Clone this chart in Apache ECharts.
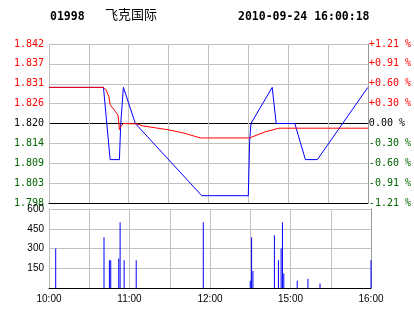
<!DOCTYPE html>
<html>
<head>
<meta charset="utf-8">
<script src="https://cdn.jsdelivr.net/npm/echarts@6/dist/echarts.min.js"></script>
<style>html,body{margin:0;padding:0;background:#fff;}#c{width:414px;height:314px;}</style>
</head>
<body>
<div id="c"></div>
<script>
// ---- data ----
const stockCode = '01998';
const stockName = '飞克国际';
const stamp = '2010-09-24 16:00:18';
const prevClose = 1.82;
const pctStep = 0.3025; // percent per horizontal grid line

// minute index from 10:00 (0) to 16:00 (240), lunch break removed
const priceIdx = [0, 41, 46, 53, 54, 56, 65, 115, 150, 151, 152, 168, 171, 185, 193, 202, 240];
const priceVal = [1.83, 1.83, 1.81, 1.81, 1.82, 1.83, 1.82, 1.80, 1.80, 1.815, 1.82, 1.83, 1.82, 1.82, 1.81, 1.81, 1.83];

const avgIdx = [0, 41, 43, 45, 46, 49, 52, 53, 54, 56, 66, 71, 89, 101, 114, 151, 152, 162, 173, 240];
const avgVal = [1.83, 1.83, 1.8293, 1.8275, 1.8252, 1.8238, 1.8222, 1.8183, 1.8192, 1.82, 1.8199, 1.8193, 1.8183, 1.8174, 1.816, 1.816, 1.8165, 1.8176, 1.8187, 1.8187];

const volIdx = [5, 41, 45, 46, 52, 53, 56, 65, 115, 150, 151, 152, 168, 171, 173, 174, 175, 185, 193, 202, 240];
const volVal = [300, 385, 210, 210, 225, 500, 210, 210, 500, 55, 385, 130, 400, 210, 300, 500, 110, 55, 70, 35, 210];

const priceTicks = ['1.798', '1.803', '1.809', '1.814', '1.820', '1.826', '1.831', '1.837', '1.842'];
const pctTicks = ['-1.21 %', '-0.91 %', '-0.60 %', '-0.30 %', '0.00 %', '+0.30 %', '+0.60 %', '+0.91 %', '+1.21 %'];
const timeTicks = { 0: '10:00', 60: '11:00', 120: '12:00', 180: '15:00', 240: '16:00' };
const volTicks = { 150: '150', 300: '300', 450: '450', 600: '600' };

// ---- chart ----
const step = prevClose * pctStep / 100;
const toUnits = p => (p - prevClose) / step;
const RED = '#ff0000', GREEN = '#006400', GRID = '#c0c0c0';
const sideColor = v => { const r = Math.round(v); return r > 0 ? RED : (r < 0 ? GREEN : '#000'); };

const chart = echarts.init(document.getElementById('c'), null, { renderer: 'canvas' });
chart.setOption({
  animation: false,
  backgroundColor: '#fff',
  graphic: [
    { type: 'text', left: 50, top: 11, style: { text: stockCode, font: 'bold 11.5px "DejaVu Sans Mono"', fill: '#000' } },
    { type: 'text', left: 105, top: 8, style: { text: stockName, font: '13px "Noto Sans CJK SC"', fill: '#000' } },
    { type: 'text', left: 238, top: 11, style: { text: stamp, font: 'bold 11.5px "DejaVu Sans Mono"', fill: '#000' } }
  ],
  grid: [
    { left: 49, right: 43, top: 44, height: 159 },
    { left: 49, right: 43, top: 209, height: 79 }
  ],
  xAxis: [
    { type: 'value', gridIndex: 0, min: 0, max: 240, interval: 30,
      axisLine: { show: true, onZero: false, lineStyle: { color: '#000', width: 1 } },
      axisTick: { show: false }, axisLabel: { show: false },
      splitLine: { show: true, lineStyle: { color: GRID, width: 1 } } },
    { type: 'value', gridIndex: 1, min: 0, max: 240, interval: 30,
      axisLine: { show: true, onZero: false, lineStyle: { color: '#000', width: 1 } },
      axisTick: { show: false },
      axisLabel: { show: true, margin: 6, color: '#000', fontFamily: 'Liberation Sans', fontSize: 10,
        formatter: v => timeTicks[v] || '', showMinLabel: true, showMaxLabel: true },
      splitLine: { show: true, lineStyle: { color: GRID, width: 1 } } }
  ],
  yAxis: [
    { type: 'value', gridIndex: 0, min: -4, max: 4, interval: 1, position: 'left',
      axisLine: { show: true, lineStyle: { color: GRID } }, axisTick: { show: false },
      axisLabel: { margin: 5, fontFamily: 'DejaVu Sans Mono', fontSize: 10,
        formatter: v => priceTicks[Math.round(v) + 4], color: sideColor },
      splitLine: { show: true, lineStyle: { width: 1,
        color: [GRID, GRID, GRID, GRID, '#000', GRID, GRID, GRID, GRID] } } },
    { type: 'value', gridIndex: 0, min: -4, max: 4, interval: 1, position: 'right',
      axisLine: { show: true, lineStyle: { color: '#999' } }, axisTick: { show: false },
      axisLabel: { margin: 1, fontFamily: 'DejaVu Sans Mono', fontSize: 10,
        formatter: v => pctTicks[Math.round(v) + 4], color: sideColor },
      splitLine: { show: false } },
    { type: 'value', gridIndex: 1, min: 0, max: 600, interval: 150, position: 'left',
      axisLine: { show: true, lineStyle: { color: GRID } }, axisTick: { show: false },
      axisLabel: { margin: 5, color: '#000', fontFamily: 'Liberation Sans', fontSize: 10,
        formatter: v => volTicks[v] || '' },
      splitLine: { show: true, lineStyle: { color: GRID, width: 1 } } },
    { type: 'value', gridIndex: 1, min: 0, max: 600, interval: 150, position: 'right',
      axisLine: { show: true, lineStyle: { color: '#999' } }, axisTick: { show: false },
      axisLabel: { show: false }, splitLine: { show: false } }
  ],
  series: [
    { type: 'line', xAxisIndex: 0, yAxisIndex: 0, symbol: 'none', z: 3,
      lineStyle: { color: '#0000ff', width: 1 },
      data: priceIdx.map((t, i) => [t, toUnits(priceVal[i])]) },
    { type: 'line', xAxisIndex: 0, yAxisIndex: 0, symbol: 'none', z: 4,
      lineStyle: { color: RED, width: 1 },
      data: avgIdx.map((t, i) => [t, toUnits(avgVal[i])]) },
    { type: 'bar', xAxisIndex: 1, yAxisIndex: 2, barWidth: 1, z: 3,
      itemStyle: { color: '#0000ff' },
      data: volIdx.map((t, i) => [t, volVal[i]]) }
  ]
});
</script>
</body>
</html>
